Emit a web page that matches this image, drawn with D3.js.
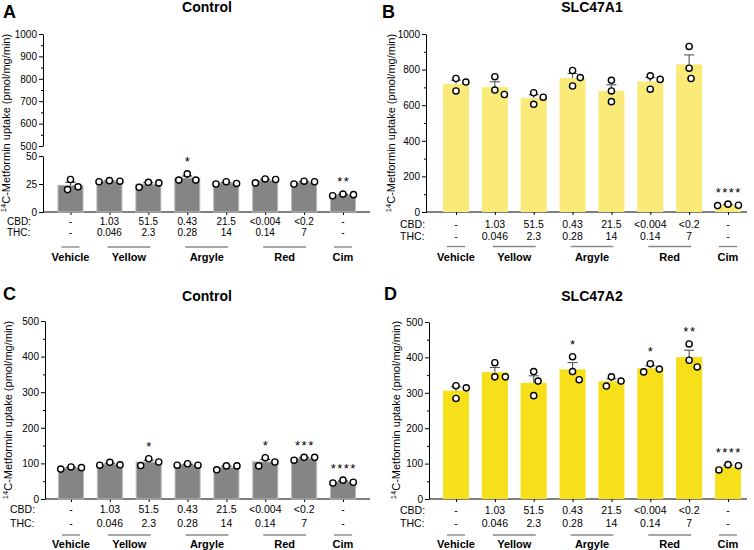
<!DOCTYPE html>
<html><head><meta charset="utf-8">
<script src="https://cdn.jsdelivr.net/npm/d3@7"></script>
<style>
body{margin:0;background:#fff}
svg{display:block}
text{font-family:"Liberation Sans",Arial,Helvetica,sans-serif;fill:#000}
</style>
</head><body><svg id="c" width="754" height="550"></svg>
<script>
// ---------------- DATA ----------------
const conditions = ["Vehicle","Yellow-1","Yellow-2","Argyle-1","Argyle-2","Red-1","Red-2","Cim"];
const cbdLabels = ["-","1.03","51.5","0.43","21.5","<0.004","<0.2","-"];
const thcLabels = ["-","0.046","2.3","0.28","14","0.14","7","-"];
const groupNames = ["Vehicle","Yellow","Argyle","Red","Cim"];
const groupMembers = [["Vehicle"],["Yellow-1","Yellow-2"],["Argyle-1","Argyle-2"],["Red-1","Red-2"],["Cim"]];

const controlA = [[20,29,22.5],[27,28,27.5],[26.5,22,26],[28.5,34,28.5],[25,27,25.5],[26,29.5,29],[25,27.5,27],[14.5,16,15.5]];
const slc47a1B = [[750,730,680],[760,660,685],[670,645,605],[795,755,708],[740,680,620],[765,745,690],[930,808,750],[36,44,38]];
const controlC = [[84,90,88],[95,103,96],[113,94,104],[95,99,95],[82,93,93],[116,93,104],[109,117,117],[45,53,47]];
const slc47a2D = [[320,314,284],[385,345,345],[360,333,292],[402,360,337],[345,319,333],[359,382,367],[438,392,373],[97,82,94]];

const starsA = ["","","","*","","","","**"];
const starsB = ["","","","","","","","****"];
const starsC = ["","","*","","","*","***","****"];
const starsD = ["","","","*","","*","**","****"];

const ticksAUpper = [500,600,700,800,900,1000];
const ticksALower = [0,25,50];
const ticksB = [0,200,400,600,800,1000];
const ticksCD = [0,100,200,300,400,500];

// ---------------- DRAW ----------------
const svg = d3.select("#c");
const R = 3.1, D = 10.5;
const fmt = d3.format("d");

function swarm(vals, y) {
  const pts = vals.map((v,i)=>({v,i,y:y(v)})).sort((a,b)=>b.v-a.v);
  const placed = [];
  pts.forEach(p=>{
    const cands=[0];
    placed.forEach(q=>{const dy=p.y-q.y; if(Math.abs(dy)<D){const dx=Math.sqrt(D*D-dy*dy); cands.push(q.x+dx,q.x-dx);}});
    cands.sort((a,b)=>Math.abs(a)-Math.abs(b)||b-a);
    for(const c of cands){ if(placed.every(q=>(c-q.x)**2+(p.y-q.y)**2>=D*D-0.05)){p.x=c;break;} }
    placed.push(p);
  });
  return placed;
}

function styleAxis(sel, fs){
  sel.selectAll("text").style("font-size",fs+"px").attr("fill","#000");
  sel.selectAll("line").attr("stroke","#000");
  sel.selectAll("path").attr("stroke","#000");
}

function panel(o){
  const g = svg.append("g");
  const x = d3.scalePoint().domain(conditions).range([o.c0,o.c1]);
  const y = d3.scaleLinear().domain(o.domain).range([o.y0,o.yTop]);
  const fs = o.rowFs;

  g.append("text").attr("x",o.letterX).attr("y",o.letterY).style("font-size","18px").style("font-weight","bold").text(o.letter);
  g.append("text").attr("x",o.titleX).attr("y",o.titleY).attr("text-anchor","middle").style("font-size","14px").style("font-weight","bold").text(o.title);

  const yl = g.append("text").attr("transform",`translate(${o.ylabX},${o.ylabY}) rotate(-90)`).attr("text-anchor","middle").style("font-size","11px");
  yl.append("tspan").attr("dy",-4).style("font-size","7.5px").text("14");
  yl.append("tspan").attr("dy",4).text("C-Metformin uptake (pmol/mg/min)");

  const ax = g.append("g").attr("transform",`translate(${o.axisX},0)`)
    .call(d3.axisLeft(y).tickValues(o.ticks).tickFormat(fmt).tickSize(4).tickSizeOuter(0).tickPadding(2));
  styleAxis(ax,10);
  if(o.minor){
    const mx = g.append("g").attr("transform",`translate(${o.axisX},0)`)
      .call(d3.axisLeft(y).tickValues(o.minor).tickSize(2).tickFormat(""));
    mx.select(".domain").remove(); styleAxis(mx,10);
  }
  if(o.upper){
    const yu = d3.scaleLinear().domain(o.upper.domain).range(o.upper.range);
    const au = g.append("g").attr("transform",`translate(${o.axisX},0)`)
      .call(d3.axisLeft(yu).tickValues(o.upper.ticks).tickFormat(fmt).tickSize(4).tickSizeOuter(0).tickPadding(2));
    styleAxis(au,10);
    const mu = g.append("g").attr("transform",`translate(${o.axisX},0)`)
      .call(d3.axisLeft(yu).tickValues(o.upper.minor).tickSize(2).tickFormat(""));
    mu.select(".domain").remove(); styleAxis(mu,10);
  }

  g.append("line").attr("x1",o.axisX).attr("x2",o.axisEnd).attr("y1",o.y0).attr("y2",o.y0).attr("stroke","#000").attr("stroke-width",1);
  const xa = g.append("g").attr("transform",`translate(0,${o.y0})`).call(d3.axisBottom(x).tickSize(3).tickFormat(""));
  xa.select(".domain").remove(); styleAxis(xa,10);

  const bw = o.bw;
  o.data.forEach((vals,i)=>{
    const c = conditions[i];
    const m = d3.mean(vals);
    const sem = d3.deviation(vals)/Math.sqrt(vals.length);
    const cx = x(c);
    g.append("rect").attr("x",cx-bw/2).attr("y",y(m)).attr("width",bw).attr("height",o.y0-y(m))
      .attr("fill",o.fill).attr("stroke",o.stroke).attr("stroke-width",o.stroke==="none"?0:1);
    g.append("line").attr("x1",cx).attr("x2",cx).attr("y1",y(m)).attr("y2",y(m+sem)).attr("stroke",o.err).attr("stroke-width",1.1);
    g.append("line").attr("x1",cx-5).attr("x2",cx+5).attr("y1",y(m+sem)).attr("y2",y(m+sem)).attr("stroke",o.err).attr("stroke-width",1.1);
    const pts = swarm(vals,y);
    pts.forEach(p=>{
      g.append("circle").attr("cx",cx+p.x).attr("cy",p.y).attr("r",R).attr("fill","#fff").attr("stroke","#000").attr("stroke-width",1.4);
    });
    if(o.stars[i]){
      const top = Math.min(d3.min(pts,p=>p.y)-R, y(m+sem));
      g.append("text").attr("x",cx+0.75).attr("y",top-12+7.5).attr("text-anchor","middle")
        .style("font-size","13px").style("letter-spacing","1.5px").text(o.stars[i]);
    }
    g.append("text").attr("x",cx).attr("y",o.cbdY).attr("text-anchor","middle").style("font-size",fs+"px").text(cbdLabels[i]);
    g.append("text").attr("x",cx).attr("y",o.thcY).attr("text-anchor","middle").style("font-size",fs+"px").text(thcLabels[i]);
  });
  g.append("text").attr("x",o.rowX).attr("y",o.cbdY).style("font-size",fs+"px").text("CBD:");
  g.append("text").attr("x",o.rowX).attr("y",o.thcY).style("font-size",fs+"px").text("THC:");

  groupNames.forEach((gn,k)=>{
    const mem = groupMembers[k];
    const a = x(mem[0]), b = x(mem[mem.length-1]);
    const mid = (a+b)/2;
    const half = mem.length>1 ? (b-a)/2+2 : 9;
    g.append("line").attr("x1",mid-half).attr("x2",mid+half).attr("y1",o.lineY).attr("y2",o.lineY).attr("stroke","#8a8a8a").attr("stroke-width",1.4);
    g.append("text").attr("x",mid).attr("y",o.labY).attr("text-anchor","middle").style("font-size","11px").style("font-weight","bold").text(gn);
  });
}

panel({letter:"A",letterX:3,letterY:18,title:"Control",titleX:207,titleY:12,
  ylabX:10,ylabY:123,axisX:43,axisEnd:370,c0:70.5,c1:343,
  domain:[0,50],y0:212,yTop:156,ticks:ticksALower,minor:null,
  upper:{domain:[500,1000],range:[146,34],ticks:ticksAUpper,minor:d3.range(550,1000,100)},
  data:controlA,stars:starsA,fill:"#858585",stroke:"#b8b8b8",err:"#333",bw:25,
  rowFs:10,cbdY:224.5,thcY:235.5,rowX:7,lineY:247,labY:261});

panel({letter:"B",letterX:382,letterY:18,title:"SLC47A1",titleX:592,titleY:12,
  ylabX:395,ylabY:123,axisX:426,axisEnd:747,c0:456,c1:728,
  domain:[0,1000],y0:212,yTop:34,ticks:ticksB,minor:d3.range(100,1000,200),
  data:slc47a1B,stars:starsB,fill:"#faeb79",stroke:"none",err:"#555",bw:26,
  rowFs:10.5,cbdY:227.5,thcY:240,rowX:400,lineY:246.5,labY:261});

panel({letter:"C",letterX:3,letterY:300,title:"Control",titleX:207,titleY:301,
  ylabX:11.5,ylabY:410,axisX:45,axisEnd:370,c0:71,c1:343,
  domain:[0,500],y0:499,yTop:321,ticks:ticksCD,minor:d3.range(50,500,100),
  data:controlC,stars:starsC,fill:"#858585",stroke:"#b8b8b8",err:"#333",bw:25,
  rowFs:10.5,cbdY:512.7,thcY:526.7,rowX:10,lineY:535,labY:547.5});

panel({letter:"D",letterX:384,letterY:300,title:"SLC47A2",titleX:592,titleY:301,
  ylabX:399.5,ylabY:410,axisX:429,axisEnd:747,c0:456,c1:728,
  domain:[0,500],y0:499,yTop:322,ticks:ticksCD,minor:d3.range(50,500,100),
  data:slc47a2D,stars:starsD,fill:"#f7e01a",stroke:"none",err:"#555",bw:26,
  rowFs:10.5,cbdY:513.7,thcY:527,rowX:400,lineY:535,labY:548});
</script></body></html>
